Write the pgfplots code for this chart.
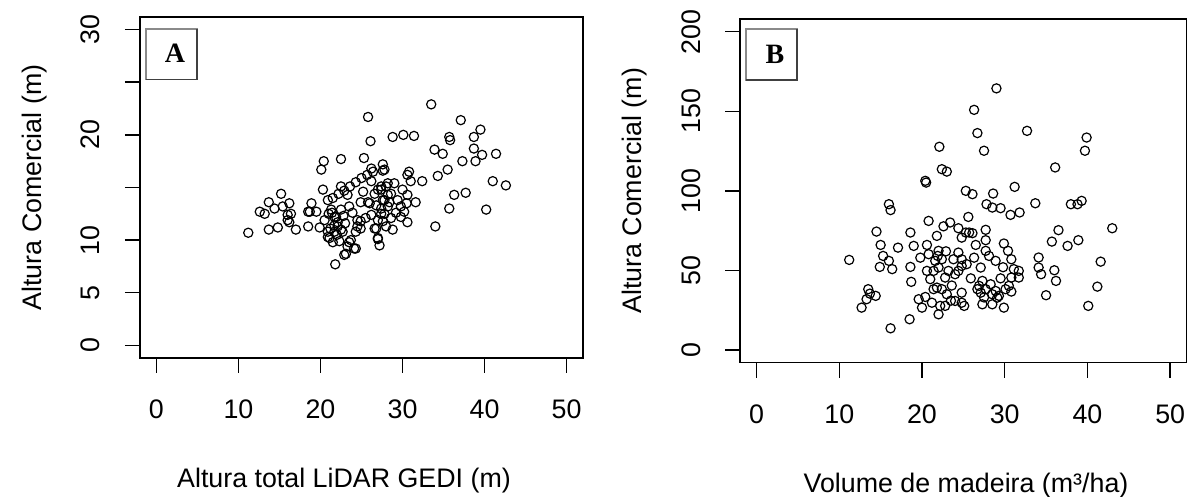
\documentclass[border=0pt]{standalone}
\usepackage{pgfplots}
\pgfplotsset{compat=1.18}
\usepackage{fontspec}
\setmainfont{Liberation Sans}
\newfontfamily\letterfont{Liberation Serif}
\definecolor{boxlight}{HTML}{8A8A8A}
\definecolor{boxdark}{HTML}{404040}
\begin{document}
\fontsize{13.4}{16}\selectfont
\begin{tikzpicture}
\useasboundingbox (0pt,0pt) rectangle (595pt,248.5pt);
\pgfplotsset{
  rstyle/.style={
    scale only axis,
    axis line style={line width=0.75pt, black},
    every tick/.style={line width=0.75pt, black},
    major tick length=7.5pt,
    tick align=outside,
    tick pos=left,
    xmin=-2, xmax=52,
    xtick={0,10,20,30,40,50},
    /pgf/number format/assume math mode=true,
    ticklabel style={font=\fontsize{13.4}{16}\selectfont},
    label style={font=\fontsize{13.4}{16}\selectfont},
    xticklabel style={anchor=base, yshift=-23pt},
    yticklabel style={xshift=-12.5pt, rotate=90, anchor=base},
  },
  rmarks/.style={only marks, mark=o, draw=black, mark size=2.3pt, mark options={line width=0.6pt, draw=black, fill=none}},
}
% ---------- Panel A ----------
\begin{axis}[rstyle,
  at={(70pt,69.5pt)}, anchor=south west,
  width=221.5pt, height=170.5pt,
  ymin=-1.2, ymax=31.2,
  ytick={0,5,10,15,20,25,30},
  yticklabels={0,5,10,,20,,30},
  xlabel={Altura total LiDAR GEDI (m)},
  ylabel={Altura Comercial (m)},
  every axis x label/.style={at={(axis description cs:0.4605,-0.381)}, anchor=base},
  every axis y label/.style={at={(axis description cs:-0.222,0.5)}, rotate=90, anchor=base},
]
\addplot[rmarks] coordinates {
(11.2,10.7) (12.6,12.7) (13.2,12.5) (13.7,13.6) (14.4,13.0) (15.2,14.4) (15.4,13.2) (16.2,13.5)
(16.0,12.4) (16.2,11.7) (13.7,11.0) (14.8,11.2) (17.0,11.0) (18.5,11.3) (18.7,12.7) (18.9,13.5)
(19.5,12.7) (19.9,11.2) (20.3,14.8) (20.1,16.7) (20.4,17.5) (22.5,17.7) (25.3,17.8) (26.2,16.8)
(27.6,17.2) (27.6,16.6)
(21.5,14.0) (22.2,14.4) (22.9,14.7) (23.6,15.1) (24.3,15.5) (25.0,15.9) (25.7,16.2) (26.4,16.5)
(20.5,11.9) (20.9,10.8) (21.1,10.2) (21.5,9.8) (21.7,11.4) (22.1,11.7) (22.5,11.0) (22.7,10.8)
(21.9,12.2) (22.5,12.9) (23.5,13.2) (21.8,7.7) (23.1,8.7) (24.1,9.2) (23.5,9.8) (24.3,10.8)
(24.5,11.3) (24.9,11.8) (25.5,12.1) (24.9,13.6) (25.8,13.6) (26.6,14.4) (26.8,13.3) (27.4,13.0)
(27.6,13.8) (27.4,14.8) (28.0,15.1) (28.2,14.3) (27.8,12.5) (27.6,11.8) (28.6,12.1) (26.8,11.1)
(27.0,10.1) (27.2,9.5) (28.8,11.0) (29.0,15.4) (29.4,13.8) (29.8,13.2) (30.2,12.7) (29.8,12.2)
(30.6,11.7) (30.6,14.3) (30.5,13.5) (31.6,13.6) (30.8,16.5) (30.6,16.2) (31.0,15.6) (32.4,15.6)
(34.3,16.1) (35.5,16.7) (37.3,17.5) (38.9,17.5) (39.7,18.1) (41.4,18.2) (41.0,15.6) (42.6,15.2)
(36.3,14.3) (37.7,14.5) (35.7,13.0) (40.2,12.9) (34.0,11.3) (33.5,22.9) (25.8,21.7) (37.1,21.4)
(39.5,20.5) (28.8,19.8) (30.1,20.0) (31.4,19.9) (26.1,19.4) (35.7,19.8) (35.8,19.5) (38.7,19.8)
(33.9,18.6) (34.9,18.2) (38.7,18.7) (16.4,12.5) (16.0,11.9) (18.5,12.7) (20.9,13.8) (21.3,12.9)
(21.7,12.2) (22.1,11.3) (21.7,10.8) (20.9,10.3) (23.3,14.3) (22.5,15.1) (24.5,11.9) (24.9,11.1)
(23.7,10.0) (23.3,9.4) (24.3,9.2) (22.9,8.6) (26.0,13.5) (27.0,14.8) (27.8,16.7) (27.4,15.1)
(27.8,13.8) (28.2,13.2) (27.4,12.5) (27.0,11.9) (26.6,11.1) (27.0,10.2) (28.6,14.4) (28.2,15.4)
(21.2,11.1) (22.0,10.5) (21.4,12.6) (22.8,12.3) (23.9,12.6) (26.2,12.4) (28.4,13.6) (29.2,12.6)
(28.0,11.3) (26.2,15.6) (21.0,12.5) (22.3,9.9) (25.2,14.6) (23.0,11.6) (30.0,14.8)
};
\draw[fill=white, draw=boxlight, line width=0.8pt] (axis description cs:0.0135,0.817) rectangle (axis description cs:0.128,0.965);
\draw[draw=boxdark, line width=0.8pt] (axis description cs:0.0135,0.817) -- (axis description cs:0.128,0.817) -- (axis description cs:0.128,0.965);
\node[font=\letterfont\bfseries\fontsize{14}{16}\selectfont] at (axis description cs:0.079,0.8935) {A};
\end{axis}
% ---------- Panel B ----------
\begin{axis}[rstyle,
  at={(370pt,67.15pt)}, anchor=south west,
  width=223.35pt, height=171.85pt,
  ymin=-8, ymax=208,
  ytick={0,50,100,150,200},
  xlabel={Volume de madeira (m³/ha)},
  ylabel={Altura Comercial (m)},
  every axis x label/.style={at={(axis description cs:0.506,-0.379)}, anchor=base},
  every axis y label/.style={at={(axis description cs:-0.220,0.5)}, rotate=90, anchor=base},
]
\addplot[rmarks] coordinates {
(29.0,164.4) (26.3,150.9) (32.7,137.7) (26.7,136.3) (27.5,125.2) (22.1,127.7) (39.9,133.5) (39.7,125.2)
(36.1,114.7) (22.4,113.6) (23.0,112.1) (20.4,106.3) (20.5,105.2) (25.3,100.0) (26.1,97.9) (28.6,98.3)
(31.2,102.5) (16.0,91.6) (16.2,87.9) (27.8,91.6) (28.5,89.5) (29.5,89.1) (30.7,84.9) (31.8,86.4)
(33.7,92.2) (38.0,91.6) (38.8,91.6) (39.3,93.7) (43.0,76.5) (20.8,81.1) (25.6,83.6) (23.4,80.1)
(22.6,77.7) (24.4,76.5) (25.3,73.8) (25.7,73.8) (26.1,73.4) (24.8,70.6) (27.7,75.5) (27.7,69.0)
(14.5,74.4) (18.6,73.8) (15.0,66.0) (17.1,64.3) (19.0,65.4) (20.6,66.0) (21.8,71.7) (22.0,62.3)
(15.3,59.1) (16.0,56.0) (14.9,52.2) (16.4,50.8) (18.6,52.2) (11.2,56.6) (18.7,42.8) (13.5,38.2)
(13.7,35.4) (14.4,34.0) (13.3,31.9) (12.7,26.6) (16.2,13.6) (18.5,19.3) (20.0,26.6) (19.6,31.9)
(20.4,33.3) (21.2,29.7) (21.4,38.2) (22.0,22.4) (22.2,27.7) (20.6,49.7) (20.8,60.2) (21.6,56.0)
(22.0,51.8) (22.4,57.0) (22.8,45.5) (22.4,38.2) (23.0,35.0) (23.2,49.7) (24.0,47.6) (23.8,57.0)
(24.4,61.2) (24.8,52.8) (25.4,53.9) (24.0,30.8) (25.1,27.7) (24.8,36.0) (27.1,51.8) (27.7,62.3)
(28.1,59.1) (28.9,56.0) (26.9,40.3) (27.3,43.4) (27.7,38.2) (28.3,41.3) (28.5,35.0) (29.1,32.9)
(27.3,28.7) (28.5,28.7) (29.3,34.0) (29.9,26.6) (29.9,66.9) (30.4,62.3) (30.8,57.0) (31.1,50.8)
(31.7,45.5) (30.8,45.5) (30.5,40.3) (30.8,36.7) (34.1,58.1) (34.1,51.8) (34.4,47.6) (36.0,50.1)
(36.2,43.4) (35.0,34.4) (35.7,68.1) (36.5,75.3) (37.6,65.4) (38.9,69.0) (41.6,55.5) (41.2,39.8)
(40.1,27.7) (21.9,59.1) (21.4,49.7) (21.0,44.5) (21.8,39.2) (26.7,38.2) (27.1,36.0) (28.9,37.1)
(30.1,38.2) (31.7,49.7) (24.8,29.7) (22.8,27.7) (24.4,49.7) (24.8,57.0)
(23.6,40.5) (25.9,45.0) (26.3,58.0) (29.5,45.0) (22.9,62.0) (27.5,33.0) (23.5,31.0) (26.5,66.0)
(19.8,58.0) (29.8,52.0)
};
\draw[fill=white, draw=boxlight, line width=0.8pt] (axis description cs:0.0134,0.8225) rectangle (axis description cs:0.127,0.971);
\draw[draw=boxdark, line width=0.8pt] (axis description cs:0.0134,0.8225) -- (axis description cs:0.127,0.8225) -- (axis description cs:0.127,0.971);
\node[font=\letterfont\bfseries\fontsize{14}{16}\selectfont] at (axis description cs:0.078,0.897) {B};
\end{axis}
\end{tikzpicture}
\end{document}
